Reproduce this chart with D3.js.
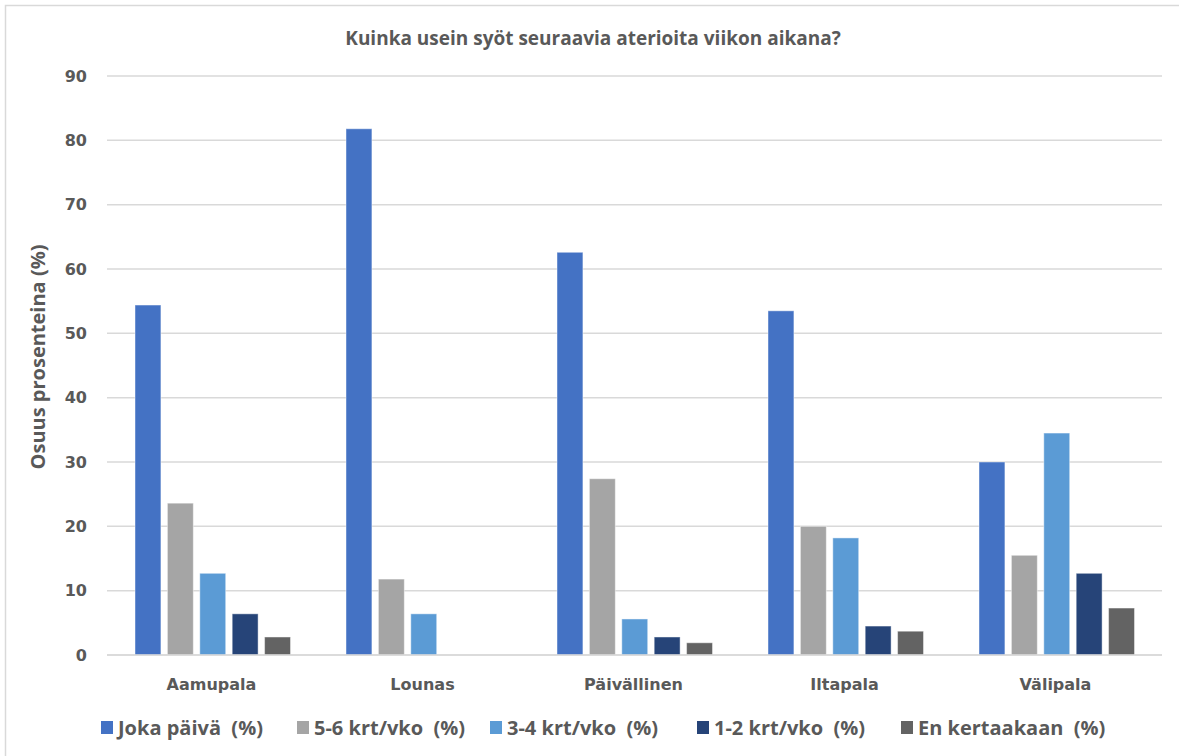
<!DOCTYPE html>
<html>
<head>
<meta charset="utf-8">
<script src="https://cdn.jsdelivr.net/npm/d3@7"></script>
<style>
  html, body { margin: 0; padding: 0; background: #fff; }
  svg { display: block; }
</style>
</head>
<body>
<svg id="chart" width="1179" height="756"></svg>
<script>
// Meals and answer frequencies
const meals = ["Aamupala", "Lounas", "Päivällinen", "Iltapala", "Välipala"];
const seriesNames = ["Joka päivä  (%)", "5-6 krt/vko  (%)", "3-4 krt/vko  (%)", "1-2 krt/vko  (%)", "En kertaakaan  (%)"];
const jokaPaiva    = [54.4, 81.8, 62.6, 53.5, 30.0];
const krt56        = [23.6, 11.8, 27.4, 20.0, 15.5];
const krt34        = [12.7, 6.4, 5.6, 18.2, 34.5];
const krt12        = [6.4, 0, 2.8, 4.5, 12.7];
const enKertaakaan = [2.8, 0, 1.9, 3.7, 7.3];
const yTicks = [0, 10, 20, 30, 40, 50, 60, 70, 80, 90];
const colors = ["#4472C4", "#A5A5A5", "#5B9BD5", "#264478", "#636363"];

const seriesValues = [jokaPaiva, krt56, krt34, krt12, enKertaakaan];

const svg = d3.select("#chart");
const W = 1179, H = 756;
const textFont = "'Open Sans', sans-serif";
const numFont = "'DejaVu Sans', Verdana, sans-serif";

// outer chart border (runs off the right and bottom edges)
svg.append("rect")
  .attr("x", 5.5).attr("y", 5.5)
  .attr("width", W).attr("height", H)
  .attr("fill", "#fff").attr("stroke", "#d9d9d9").attr("stroke-width", 1.5);

const plot = { left: 107, right: 1162, top: 76, bottom: 655 };

const x0 = d3.scaleBand().domain(meals).range([plot.left, plot.right]).padding(0);
const x1 = d3.scaleBand().domain(d3.range(seriesNames.length))
  .range([28, 183.5]).paddingInner(0.2).paddingOuter(0);
const y = d3.scaleLinear().domain([0, 90]).range([plot.bottom, plot.top]);

// gridlines
svg.append("g")
  .selectAll("line")
  .data(yTicks)
  .join("line")
  .attr("x1", plot.left).attr("x2", plot.right)
  .attr("y1", d => y(d)).attr("y2", d => y(d))
  .attr("stroke", "#d9d9d9").attr("stroke-width", 1.5);

// y axis tick labels
const yAxis = d3.axisLeft(y).tickValues(yTicks).tickSize(0).tickPadding(0);
const gy = svg.append("g").attr("transform", `translate(${plot.left - 20},0)`).call(yAxis);
gy.select(".domain").remove();
gy.selectAll("text")
  .attr("font-family", numFont)
  .attr("font-weight", "bold")
  .attr("font-size", 16)
  .attr("fill", "#595959");

// bars
const groups = svg.append("g")
  .selectAll("g")
  .data(meals)
  .join("g")
  .attr("transform", d => `translate(${x0(d)},0)`);

groups.selectAll("rect")
  .data((m, i) => seriesValues.map((vals, s) => ({ s, v: vals[i] })))
  .join("rect")
  .attr("x", d => x1(d.s))
  .attr("width", x1.bandwidth())
  .attr("y", d => y(d.v))
  .attr("height", d => y(0) - y(d.v))
  .attr("fill", d => colors[d.s])
  .attr("stroke", d => d.v > 0 ? "rgba(255,255,255,0.45)" : "none")
  .attr("stroke-width", 1);

// baseline
svg.append("line")
  .attr("x1", plot.left).attr("x2", plot.right)
  .attr("y1", y(0)).attr("y2", y(0))
  .attr("stroke", "#d9d9d9").attr("stroke-width", 1.5);

// category labels
const xAxis = d3.axisBottom(x0).tickSize(0).tickPadding(0);
const gx = svg.append("g").attr("transform", `translate(0,${plot.bottom + 35})`).call(xAxis);
gx.select(".domain").remove();
gx.selectAll("text")
  .attr("dy", 0)
  .attr("dx", -1)
  .attr("font-family", numFont)
  .attr("font-weight", "bold")
  .attr("font-size", 16)
  .attr("fill", "#595959");

// title
svg.append("text")
  .attr("x", 593).attr("y", 45)
  .attr("text-anchor", "middle")
  .attr("font-family", textFont)
  .attr("font-weight", "bold")
  .attr("font-size", 19)
  .attr("fill", "#595959")
  .text("Kuinka usein syöt seuraavia aterioita viikon aikana?");

// y axis title
svg.append("text")
  .attr("transform", `translate(45,357) rotate(-90)`)
  .attr("text-anchor", "middle")
  .attr("font-family", textFont)
  .attr("font-weight", "bold")
  .attr("font-size", 20)
  .attr("fill", "#595959")
  .text("Osuus prosenteina (%)");

// legend
const legendX = [101, 297, 490, 697, 901];
const legend = svg.append("g")
  .selectAll("g")
  .data(seriesNames)
  .join("g")
  .attr("transform", (d, i) => `translate(${legendX[i]},721)`);
legend.append("rect")
  .attr("width", 12).attr("height", 13)
  .attr("fill", (d, i) => colors[i]);
legend.append("text")
  .attr("x", 17).attr("y", 14)
  .attr("font-family", textFont)
  .attr("font-weight", "bold")
  .attr("font-size", 20)
  .attr("fill", "#595959")
  .attr("xml:space", "preserve")
  .style("white-space", "pre")
  .text(d => d);
</script>
</body>
</html>
